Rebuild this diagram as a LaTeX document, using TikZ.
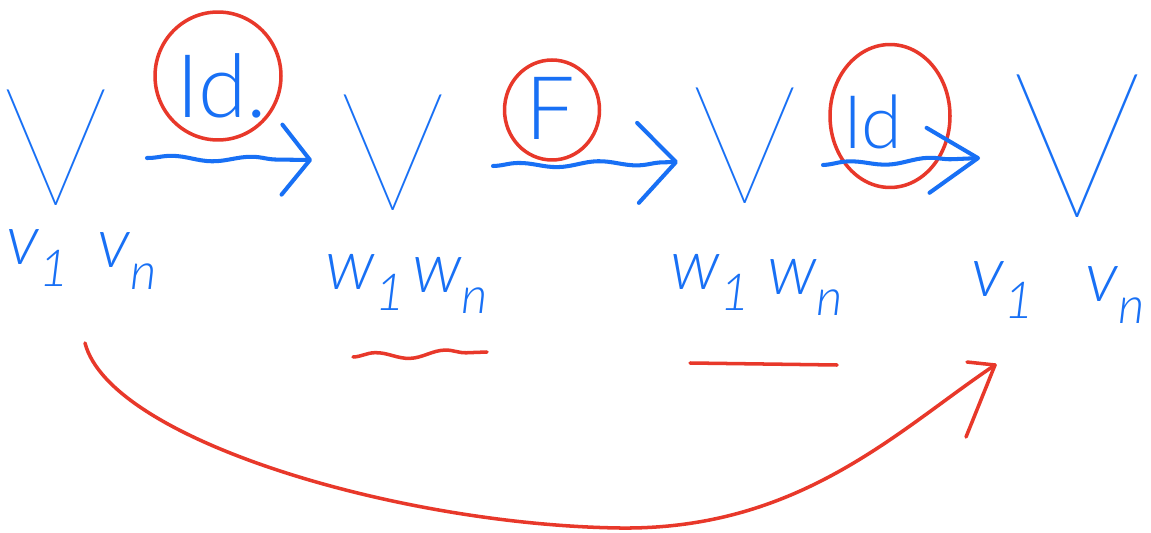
\documentclass[tikz,border=0pt]{standalone}
\usepackage{fontspec}
\usetikzlibrary{arrows.meta,shapes.geometric,decorations.pathmorphing,calc}
% thin sans for the spaces, light sans for map names, light italic for the vectors
\IfFontExistsTF{Lato Thin}{\newfontfamily\thinfont{Lato Thin}}{%
  \IfFontExistsTF{Noto Sans Thin}{\newfontfamily\thinfont{Noto Sans Thin}}{%
    \newfontfamily\thinfont{Liberation Sans}}}
\IfFontExistsTF{Lato Light}{\newfontfamily\lightfont{Lato Light}}{%
  \IfFontExistsTF{Noto Sans Light}{\newfontfamily\lightfont{Noto Sans Light}}{%
    \newfontfamily\lightfont{Liberation Sans}}}
\IfFontExistsTF{Lato Light Italic}{\newfontfamily\handit{Lato Light Italic}}{%
  \IfFontExistsTF{Noto Sans Light Italic}{\newfontfamily\handit{Noto Sans Light Italic}}{%
    \newfontfamily\handfamily{Liberation Sans}\newcommand\handit{\handfamily\itshape}}}
\definecolor{ink}{RGB}{24,112,245}
\definecolor{pen}{RGB}{232,56,42}
% lowered, smaller index for the basis vectors
\newcommand\lowsub[1]{\raisebox{-0.3em}{\fontsize{29}{29}\selectfont #1}}
\tikzset{
  space/.style={text=ink, inner sep=0pt, font=\thinfont\fontsize{94}{94}\selectfont},
  basis/.style={text=ink, inner sep=0pt, font=\handit\fontsize{40}{40}\selectfont},
  maplabel/.style={text=ink, inner sep=0pt, font=\lightfont\fontsize{50}{50}\selectfont},
  ring/.style={draw=pen, line width=2pt, ellipse, inner sep=0pt},
  maparrow/.style={draw=ink, line width=2.3pt, line cap=round, line join=round,
    decorate, decoration={snake, amplitude=0.05cm, segment length=1.6cm, post length=0.3cm}},
  redmark/.style={draw=pen, line width=2pt, line cap=round, line join=round},
}
\begin{document}
\begin{tikzpicture}[x=0.02cm, y=-0.02cm]
\fill[white] (0,0) rectangle (1151,533);
\useasboundingbox (0,0) rectangle (1151,533);

% the four copies of the space
\node[space] (V1) at (56,148) {V};
\node[space] (V2) at (393,153) {V};
\node[space] (V3) at (745,146) {V};
\node[space, font=\thinfont\fontsize{116}{116}\selectfont] (V4) at (1077,146) {V};

% bases
\node[basis] (v1a) at (38,258) {v\lowsub{1}};
\node[basis] (vna) at (127,261) {v\lowsub{n}};
\node[basis] (w1b) at (365,282) {w\lowsub{1}};
\node[basis] (wnb) at (450,285) {w\lowsub{n}};
\node[basis] (w1c) at (710,282) {w\lowsub{1}};
\node[basis] (wnc) at (805,287) {w\lowsub{n}};
\node[basis] (v1d) at (1003,290) {v\lowsub{1}};
\node[basis] (vnd) at (1115,295) {v\lowsub{n}};

% maps and their circled names
\node[maplabel] (L1) at (222,86) {Id.};
\node[maplabel] (L2) at (550,108) {F};
\node[maplabel, font=\lightfont\fontsize{42}{42}\selectfont] (L3) at (873,122) {Id};
\node[ring, minimum width=2.52cm, minimum height=2.56cm] (R1) at (218,76) {};
\node[ring, minimum width=1.9cm, minimum height=2cm] (R2) at (552,110) {};
\node[ring, minimum width=2.4cm, minimum height=2.86cm] (R3) at (890,116) {};

\draw[maparrow, -{Straight Barb[length=0.56cm,width=1.4cm,round]}]
  ($(V1)+(91,10)$) -- ($(V2)+(-81,7)$);
\draw[maparrow, -{Straight Barb[length=0.76cm,width=1.6cm,round]}]
  ($(V2)+(100,13)$) -- ($(V3)+(-67,16)$);
\draw[maparrow, -{Straight Barb[length=1cm,width=1.3cm,round]}]
  ($(V3)+(78,19)$) -- ($(V4)+(-97,12)$);

% underlined bases
\draw[redmark, decorate, decoration={snake, amplitude=0.07cm, segment length=1.4cm}]
  ($(w1b)+(-12,75)$) -- ($(wnb)+(37,67)$);
\draw[redmark] ($(w1c)+(-20,81)$) -- ($(wnc)+(32,78)$);

% composite map from the first basis to the last
\coordinate (from) at ($(vna)+(-42,82)$);
\coordinate (to) at ($(v1d)+(-8,75)$);
\coordinate (low) at (620,528);
\draw[redmark] (from) .. controls +(25,97) and +(-220,-3) .. (low)
  .. controls +(180,2) and +(-97,65) .. (to);
\draw[redmark] (to) -- +(-28,-3);
\draw[redmark] (to) -- +(-29,72);
\end{tikzpicture}
\end{document}
